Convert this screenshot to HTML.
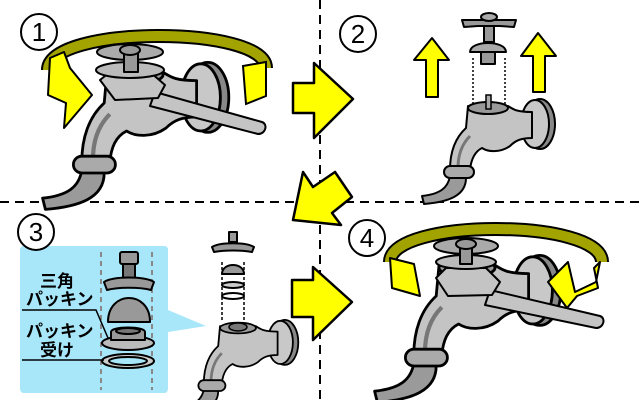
<!DOCTYPE html>
<html><head><meta charset="utf-8"><style>
html,body{margin:0;padding:0;background:#fff;width:640px;height:400px;overflow:hidden}
svg{display:block}
text{font-family:"Liberation Sans","Noto Sans CJK JP",sans-serif}
</style></head><body>
<svg width="640" height="400" viewBox="0 0 640 400" xmlns="http://www.w3.org/2000/svg">
<defs>
<g id="faucet" stroke="#000" stroke-width="2" stroke-linejoin="round">
  <path d="M-38,68 C-40,80 -48,86 -66,88 L-64,96 C-40,94 -22,88 -22,70 Z" fill="#9a9a9a"/>
  <ellipse cx="52" cy="16" rx="15" ry="25" fill="#888"/>
  <ellipse cx="47" cy="16" rx="14" ry="24" fill="#c8c8c8"/>
  <path d="M-20,-2 L20,-2 C26,2 30,4 44,4 L44,30 C34,30 28,32 22,38 C12,45 0,44 -6,40 C-14,44 -17,52 -18,62 L-38,62 C-38,45 -33,30 -22,20 Z" fill="#c4c4c4"/>
  <path d="M-30,60 C-30,45 -25,35 -18,28" fill="none" stroke="#777" stroke-width="3"/>
  <rect x="-44" y="58" width="30" height="12" rx="6" fill="#aaa"/>
  <ellipse cx="0" cy="0" rx="20" ry="6" fill="#999"/>
</g>
</defs>

<line x1="0" y1="202" x2="640" y2="202" stroke="#000" stroke-width="2" stroke-dasharray="9,6"/>
<line x1="320" y1="0" x2="320" y2="400" stroke="#000" stroke-width="2" stroke-dasharray="9,6"/>

<!-- ========== Panel 1 ========== -->
<path d="M48,70 C48,25 266,25 266,68" fill="none" stroke="#000" stroke-width="14"/>
<path d="M48,70 C48,25 266,25 266,68" fill="none" stroke="#a3a300" stroke-width="10"/>
<use href="#faucet" transform="translate(135,75) scale(1.4)"/>
<g stroke="#000" stroke-width="2" stroke-linejoin="round">
<path d="M155,92 L262,122 C268,124 266,134 258,134 L150,106 Z" fill="#c4c4c4"/>
<path d="M100,80 L110,72 L150,72 L165,85 L158,98 L115,100 Z" fill="#c4c4c4"/>
<ellipse cx="130" cy="70" rx="34" ry="8" fill="#bbb"/>
<ellipse cx="130" cy="52" rx="33" ry="8" fill="#aaa"/>
<rect x="124" y="52" width="14" height="20" fill="#999"/>
<ellipse cx="130" cy="50" rx="10" ry="5" fill="#999"/>
</g>
<path d="M50,58 L64,52 L70,68 L92,95 L64,128 L66,103 L48,95 Z" fill="#ffff00" stroke="#000" stroke-width="2" stroke-linejoin="round"/>
<path d="M243,66 L266,62 L266,96 L246,104 Z" fill="#ffff00" stroke="#000" stroke-width="2"/>

<!-- ========== Panel 2 ========== -->
<use href="#faucet" transform="translate(488,108)"/>
<rect x="486" y="95" width="5" height="14" fill="#aaa" stroke="#000" stroke-width="1.5"/>
<g stroke="#000" stroke-width="1.5" stroke-dasharray="2,2"><line x1="473" y1="58" x2="473" y2="105"/><line x1="505" y1="58" x2="505" y2="105"/></g>
<g stroke="#000" stroke-width="2" stroke-linejoin="round">
<rect x="481" y="48" width="14" height="16" fill="#999"/>
<path d="M470,52 C470,40 506,40 506,52 Z" fill="#aaa"/>
<rect x="484" y="22" width="10" height="20" fill="#999"/>
<path d="M462,20 L516,20 L514,27 L500,26 L478,26 L464,27 Z" fill="#999"/>
<ellipse cx="489" cy="17" rx="8" ry="4" fill="#aaa"/>
</g>
<g fill="#ffff00" stroke="#000" stroke-width="2" stroke-linejoin="round">
<path d="M426,97 L426,60 L414,60 L432,38 L449,60 L438,60 L438,97 Z"/>
<path d="M533,92 L533,56 L521,56 L538,33 L556,56 L545,56 L545,92 Z"/>
</g>

<g fill="#ffff00" stroke="#000" stroke-width="2.5" stroke-linejoin="round">
<path d="M293,83 L314,83 L314,63 L353,99 L314,138 L314,113 L293,113 Z"/>
<path d="M293,220 L303,172 L313,187 L335,172 L352,197 L332,213 L341,225 Z"/>
<path d="M292,280 L313,280 L313,267 L352,302 L313,340 L313,317 L292,317 Z"/>
</g>

<!-- ========== Panel 3 ========== -->
<path d="M24,246 L164,246 Q168,246 168,250 L168,310 L206,326 L168,332 L168,388 Q168,393 164,393 L24,393 Q20,393 20,388 L20,250 Q20,246 24,246 Z" fill="#a8e6fa"/>
<g stroke="#888" stroke-width="2" stroke-dasharray="5,4"><line x1="101" y1="252" x2="101" y2="390"/><line x1="152" y1="252" x2="152" y2="390"/></g>
<g stroke="#000" stroke-width="2" stroke-linejoin="round">
<rect x="123" y="263" width="12" height="16" fill="#777"/>
<rect x="120" y="252" width="18" height="12" rx="2" fill="#999"/>
<path d="M104,282 C112,276 146,276 154,282 L151,290 C140,287 118,287 107,290 Z" fill="#999"/>
<path d="M108,322 C108,290 150,290 150,322 Z" fill="#999"/>
<ellipse cx="128" cy="343" rx="26" ry="7" fill="#bbb"/>
<path d="M111,340 L111,332 C111,326 145,326 145,332 L145,340 Z" fill="#999"/>
<ellipse cx="128" cy="331" rx="12" ry="3" fill="#777"/>
<ellipse cx="128" cy="361" rx="26" ry="7" fill="#ccc"/>
<ellipse cx="128" cy="361" rx="19" ry="4" fill="#a8e6fa"/>
</g>
<path d="M22,310 L96,310 L108,338" fill="none" stroke="#000" stroke-width="1.5"/>
<line x1="22" y1="360" x2="104" y2="360" stroke="#000" stroke-width="1.5"/>
<g font-size="17" fill="#000" font-weight="bold">
<text x="40" y="287">三角</text>
<text x="26" y="305">パッキン</text>
<text x="26" y="337">パッキン</text>
<text x="40" y="356">受け</text>
</g>
<use href="#faucet" transform="translate(238,328) scale(0.9)"/>
<ellipse cx="238" cy="327" rx="9" ry="4" fill="#777" stroke="#000" stroke-width="1.5"/>
<g stroke="#000" stroke-width="1.5" stroke-dasharray="3,2"><line x1="222" y1="262" x2="222" y2="320"/><line x1="244" y1="262" x2="244" y2="320"/></g>
<g stroke="#000" stroke-width="2" stroke-linejoin="round">
<path d="M222,274 C222,262 244,262 244,274 Z" fill="#999"/>
<ellipse cx="233" cy="285" rx="11" ry="3" fill="#ccc"/>
<ellipse cx="233" cy="296" rx="11" ry="3" fill="#fff"/>
<path d="M212,247 C220,242 246,242 254,247 L252,252 C242,250 224,250 214,252 Z" fill="#999"/>
<rect x="229" y="232" width="8" height="10" fill="#999"/>
</g>

<!-- ========== Panel 4 ========== -->
<path d="M390,262 C390,218 602,218 602,262" fill="none" stroke="#000" stroke-width="14"/>
<path d="M390,262 C390,218 602,218 602,262" fill="none" stroke="#a3a300" stroke-width="10"/>
<use href="#faucet" transform="translate(467,268) scale(1.4)"/>
<g stroke="#000" stroke-width="2" stroke-linejoin="round">
<path d="M490,290 L600,316 C606,318 604,328 596,328 L485,305 Z" fill="#c4c4c4"/>
<path d="M436,278 L446,268 L486,268 L500,282 L492,295 L448,296 Z" fill="#c4c4c4"/>
<ellipse cx="466" cy="262" rx="30" ry="7" fill="#bbb"/>
<ellipse cx="466" cy="246" rx="32" ry="8" fill="#aaa"/>
<rect x="460" y="246" width="12" height="18" fill="#999"/>
<ellipse cx="466" cy="244" rx="10" ry="5" fill="#999"/>
</g>
<path d="M390,258 L414,264 L420,296 L392,288 Z" fill="#ffff00" stroke="#000" stroke-width="2" stroke-linejoin="round"/>
<path d="M600,262 L596,282 L575,292 L568,262 L548,282 L567,308 L577,296 L598,288 L594,268 Z" fill="#ffff00" stroke="#000" stroke-width="2" stroke-linejoin="round"/>

<!-- numbers on top -->
<g fill="#fff" stroke="#000" stroke-width="2">
<circle cx="39" cy="32" r="18"/><circle cx="358" cy="34" r="18"/>
<circle cx="36" cy="232" r="18"/><circle cx="367" cy="238" r="18"/>
</g>
<g font-size="26" text-anchor="middle" fill="#000">
<text x="39" y="41">1</text><text x="358" y="43">2</text>
<text x="36" y="241">3</text><text x="367" y="247">4</text>
</g>
</svg>
</body></html>
